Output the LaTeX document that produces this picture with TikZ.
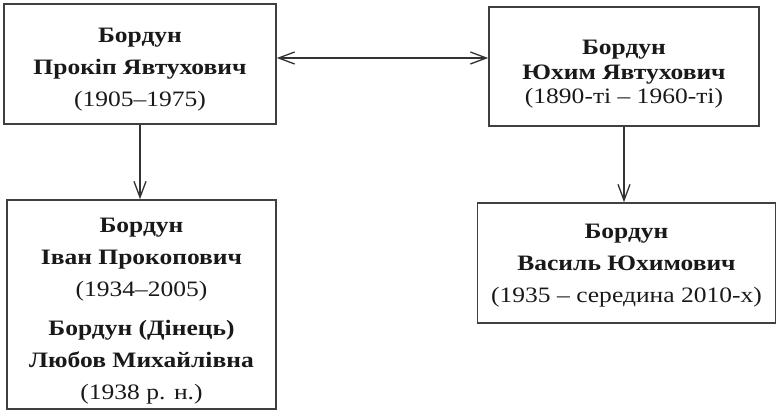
\documentclass[tikz,border=0pt]{standalone}
\usepackage{fontspec}
\setmainfont[FakeStretch=1.16]{Liberation Serif}
\usetikzlibrary{arrows.meta}

\begin{document}
\begin{tikzpicture}[x=1pt, y=1pt,
    >={Straight Barb[length=16pt,width=12pt]},
    person/.style={draw=black!75, line width=1.6pt, inner sep=0pt},
    names/.style={align=center, inner sep=0pt, text=black!90, font=\fontsize{22}{32}\selectfont},
    link/.style={draw=black!80, line width=1.3pt}]
    \useasboundingbox (0,0) rectangle (777,411);

    \node [person, minimum width=272, minimum height=120,
        label={[names, yshift=-6]center:{\textbf{Бордун}\\ \textbf{Прокіп Явтухович}\\ (1905–1975)}}]
        (prokip) at (140,347) {};
    \node [person, minimum width=270, minimum height=119,
        label={[names, font=\fontsize{22}{24.5}\selectfont, yshift=-8]center:{\textbf{Бордун}\\ \textbf{Юхим Явтухович}\\ (1890-ті – 1960-ті)}}]
        (yukhym) at (624,344.5) {};
    \node [person, minimum width=269, minimum height=209,
        label={[names, yshift=-7]center:{\textbf{Бордун}\\ \textbf{Іван Прокопович}\\ (1934–2005)\\[7pt]
         \textbf{Бордун (Дінець)}\\ \textbf{Любов Михайлівна}\\ (1938 р. н.)}}]
        (ivan) at (141.5,106.5) {};
    \node [person, minimum width=298, minimum height=120,
        label={[names, yshift=-2.5]center:{\textbf{Бордун}\\ \textbf{Василь Юхимович}\\ (1935 – середина 2010-х)}}]
        (vasyl) at (626.5,148) {};

    \draw [link, <->] ([yshift=6pt]prokip.east) -- ([yshift=6pt]prokip.east -| yukhym.west);
    \draw [link, ->] (prokip.south) -- (prokip.south |- ivan.north);
    \draw [link, ->] (yukhym.south) -- (yukhym.south |- vasyl.north);
\end{tikzpicture}
\end{document}
